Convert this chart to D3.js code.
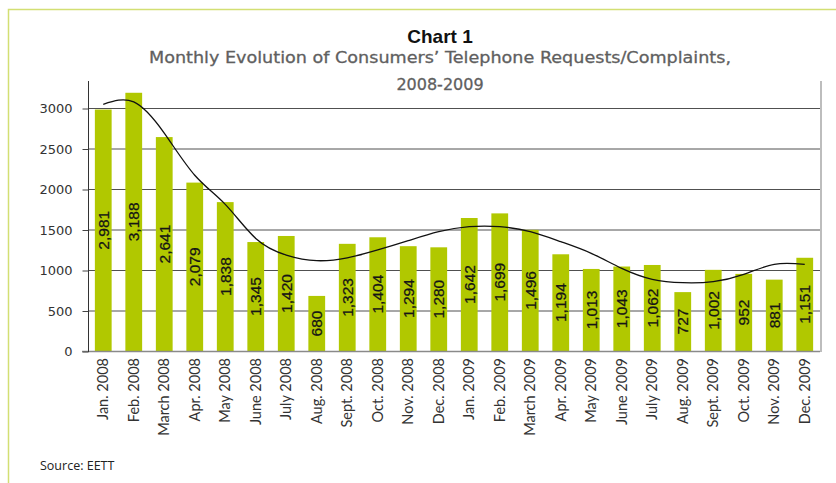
<!DOCTYPE html>
<html>
<head>
<meta charset="utf-8">
<script src="https://cdn.jsdelivr.net/npm/d3@7"></script>
<style>
  body { margin: 0; background: #fff; }
</style>
</head>
<body>
<div id="chart"></div>
<script>
const months = ["Jan. 2008", "Feb. 2008", "March 2008", "Apr. 2008", "May 2008", "June 2008",
  "July 2008", "Aug. 2008", "Sept. 2008", "Oct. 2008", "Nov. 2008", "Dec. 2008",
  "Jan. 2009", "Feb. 2009", "March 2009", "Apr. 2009", "May 2009", "June 2009",
  "July 2009", "Aug. 2009", "Sept. 2009", "Oct. 2009", "Nov. 2009", "Dec. 2009"];
const requests = [2981, 3188, 2641, 2079, 1838, 1345, 1420, 680, 1323, 1404, 1294, 1280,
  1642, 1699, 1496, 1194, 1013, 1043, 1062, 727, 1002, 952, 881, 1151];
// trend line, one value per month
const trend = [3046, 3075, 2690, 2170, 1810, 1390, 1185, 1115, 1150, 1247, 1362, 1473,
  1535, 1535, 1473, 1350, 1206, 1020, 885, 843, 856, 946, 1070, 1070];
const yTicks = [0, 500, 1000, 1500, 2000, 2500, 3000];

const W = 836, H = 483;
const PLOT = { LEFT: 88, RIGHT: 820, TOP: 81, BOTTOM: 351 };

const svg = d3.select("#chart").append("svg")
    .attr("width", W)
    .attr("height", H);

// lime frame round the figure
svg.append("path")
    .attr("d", `M8.5,${H} V9.5 H${W}`)
    .attr("fill", "none")
    .attr("stroke", "#d3df73")
    .attr("stroke-width", 1.5);

const x = d3.scaleBand()
    .domain(months)
    .range([PLOT.LEFT, PLOT.RIGHT])
    .paddingInner(0.45)
    .paddingOuter(0.225);

const y = d3.scaleLinear()
    .domain([0, 3000])
    .range([PLOT.BOTTOM, 108]);

// gridlines
svg.append("g").selectAll("line")
    .data(yTicks.filter(d => d > 0))
    .enter().append("line")
    .attr("x1", PLOT.LEFT).attr("x2", PLOT.RIGHT)
    .attr("y1", d => y(d) + 0.5).attr("y2", d => y(d) + 0.5)
    .attr("stroke", "#505050")
    .attr("stroke-width", 1);

// bars
svg.append("g").selectAll("rect")
    .data(requests)
    .enter().append("rect")
    .attr("x", (d, i) => x(months[i]))
    .attr("width", x.bandwidth())
    .attr("y", d => y(d))
    .attr("height", d => y(0) - y(d))
    .attr("fill", "#b1c800");

// value labels, rotated in the bars
svg.append("g").selectAll("text")
    .data(requests)
    .enter().append("text")
    .attr("transform", (d, i) => `translate(${x(months[i]) + x.bandwidth() / 2}, ${(y(d) + y(0)) / 2}) rotate(-90)`)
    .attr("text-anchor", "middle")
    .attr("dy", "0.36em")
    .attr("font-family", "Liberation Sans, Arial, sans-serif")
    .attr("font-size", 15.5)
    .attr("fill", "#151515")
    .attr("stroke", "#151515")
    .attr("stroke-width", 0.25)
    .text(d => d3.format(",")(d));

// trend line
const line = d3.line()
    .x((d, i) => x(months[i]) + x.bandwidth() / 2)
    .y(d => y(d))
    .curve(d3.curveNatural);

svg.append("path")
    .datum(trend)
    .attr("d", line)
    .attr("fill", "none")
    .attr("stroke", "#111")
    .attr("stroke-width", 1.3);

// right border of plot
svg.append("line")
    .attr("x1", PLOT.RIGHT + 1).attr("x2", PLOT.RIGHT + 1)
    .attr("y1", PLOT.TOP).attr("y2", PLOT.BOTTOM + 1)
    .attr("stroke", "#bdbdbd")
    .attr("stroke-width", 2);

// x axis line
svg.append("line")
    .attr("x1", PLOT.LEFT - 6).attr("x2", PLOT.RIGHT)
    .attr("y1", PLOT.BOTTOM + 0.5).attr("y2", PLOT.BOTTOM + 0.5)
    .attr("stroke", "#8a8a8a")
    .attr("stroke-width", 1.5);

// y axis
const yAxis = d3.axisLeft(y)
    .tickValues(yTicks)
    .tickSize(6)
    .tickPadding(10)
    .tickFormat(d3.format("d"));

const yg = svg.append("g")
    .attr("transform", `translate(${PLOT.LEFT + 0.5}, 0.5)`)
    .call(yAxis);
yg.select(".domain").remove();
yg.selectAll(".tick line").attr("stroke", "#444");
yg.selectAll(".tick text")
    .attr("font-family", "DejaVu Sans, sans-serif")
    .attr("font-size", 13)
    .attr("fill", "#333");
svg.append("line")
    .attr("x1", PLOT.LEFT + 0.5).attr("x2", PLOT.LEFT + 0.5)
    .attr("y1", PLOT.TOP).attr("y2", PLOT.BOTTOM + 1)
    .attr("stroke", "#333")
    .attr("stroke-width", 1);

// month labels
svg.append("g").selectAll("text")
    .data(months)
    .enter().append("text")
    .attr("transform", d => `translate(${x(d) + x.bandwidth() / 2}, 358) rotate(-90)`)
    .attr("text-anchor", "end")
    .attr("dy", "0.36em")
    .attr("font-family", "Lato, sans-serif")
    .attr("font-size", 14.5)
    .attr("fill", "#333")
    .text(d => d);

// titles
svg.append("text")
    .attr("x", 440).attr("y", 43)
    .attr("text-anchor", "middle")
    .attr("font-family", "Liberation Sans, Arial, sans-serif")
    .attr("font-weight", "bold")
    .attr("font-size", 19)
    .attr("fill", "#111")
    .text("Chart 1");

svg.append("text")
    .attr("x", 440).attr("y", 63)
    .attr("text-anchor", "middle")
    .attr("font-family", "DejaVu Sans, sans-serif")
    .attr("font-size", 16)
    .attr("fill", "#5f5f5f")
    .attr("stroke", "#5f5f5f")
    .attr("stroke-width", 0.3)
    .attr("textLength", 582)
    .attr("lengthAdjust", "spacingAndGlyphs")
    .text("Monthly Evolution of Consumers’ Telephone Requests/Complaints,");

svg.append("text")
    .attr("x", 440).attr("y", 90)
    .attr("text-anchor", "middle")
    .attr("font-family", "DejaVu Sans, sans-serif")
    .attr("font-size", 16)
    .attr("fill", "#5f5f5f")
    .attr("stroke", "#5f5f5f")
    .attr("stroke-width", 0.3)
    .text("2008-2009");

svg.append("text")
    .attr("x", 40).attr("y", 470)
    .attr("font-family", "Open Sans, sans-serif")
    .attr("font-size", 12.5)
    .attr("fill", "#222")
    .text("Source: EETT");
</script>
</body>
</html>
